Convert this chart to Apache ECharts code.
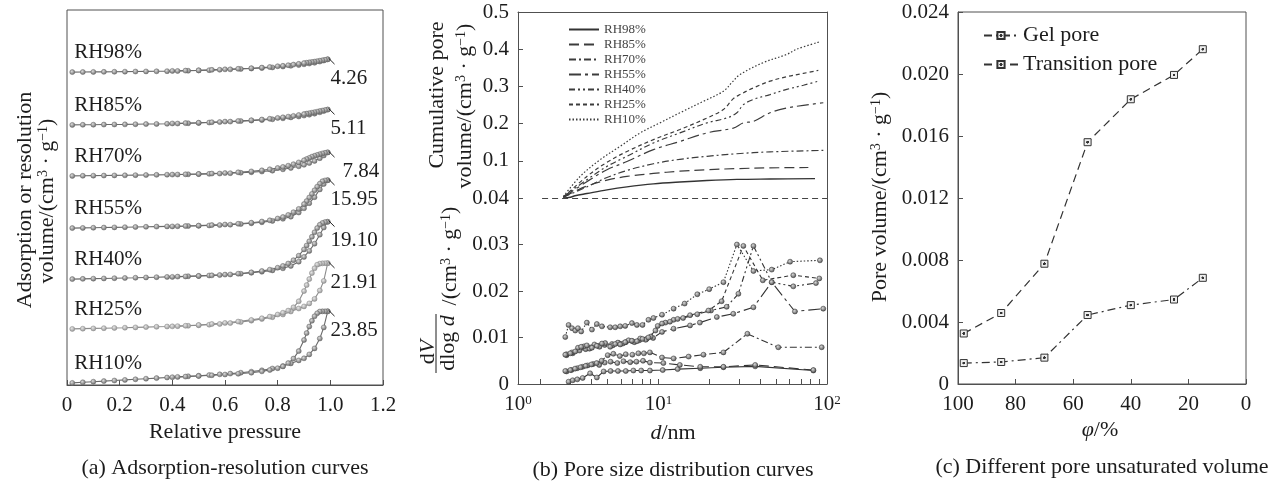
<!DOCTYPE html>
<html><head><meta charset="utf-8">
<script src="https://cdn.jsdelivr.net/npm/echarts@6/dist/echarts.min.js"></script>
<style>html,body{margin:0;padding:0;background:#fff}#c{width:1282px;height:482px}</style>
</head><body><div id="c"></div>
<script>
// ---------------- DATA ----------------
// (a) adsorption / desorption isotherms (relative pressure, volume cm3/g)
const pAds = [0.02,0.06,0.1,0.14,0.18,0.22,0.26,0.3,0.34,0.38,0.42,0.46,0.5,0.54,0.58,0.62,0.66,0.7,0.74,0.78,0.82,0.85,0.88,0.9,0.92,0.94,0.96,0.975,0.99];
const pDes = [0.99,0.98,0.97,0.96,0.95,0.94,0.93,0.92,0.91,0.9,0.88,0.86,0.84,0.82,0.8,0.77,0.74,0.7,0.65,0.6,0.55,0.5,0.45,0.4];
const adsRH98 = [0,0.03,0.06,0.09,0.12,0.15,0.19,0.23,0.27,0.31,0.38,0.46,0.55,0.65,0.78,0.92,1.05,1.2,1.35,1.55,1.85,2.1,2.35,2.6,2.85,3.1,3.5,3.85,4.26];
const desRH98 = [4.26,4.1,3.95,3.8,3.65,3.5,3.38,3.25,3.12,3.0,2.75,2.5,2.3,2.1,1.95,1.7,1.5,1.3,1.1,0.92,0.75,0.6,0.5,0.4];
const adsRH85 = [0,0.04,0.07,0.11,0.14,0.18,0.23,0.28,0.32,0.37,0.46,0.55,0.66,0.78,0.94,1.1,1.26,1.44,1.62,1.86,2.2,2.5,2.8,3.1,3.4,3.75,4.2,4.6,5.11];
const desRH85 = [5.11,4.95,4.78,4.6,4.42,4.25,4.08,3.92,3.76,3.6,3.3,3.0,2.75,2.52,2.33,2.05,1.8,1.56,1.3,1.1,0.9,0.72,0.6,0.48];
const adsRH70 = [0,0.04,0.08,0.12,0.16,0.2,0.25,0.3,0.35,0.4,0.46,0.53,0.6,0.68,0.78,0.9,1.05,1.22,1.45,1.75,2.2,2.65,3.2,3.7,4.3,5.0,5.9,6.8,7.84];
const desRH70 = [7.84,7.7,7.5,7.25,7.0,6.7,6.4,6.0,5.6,5.2,4.5,3.9,3.4,3.0,2.65,2.2,1.85,1.5,1.2,0.95,0.78,0.64,0.53,0.44];
const adsRH55 = [0,0.06,0.12,0.18,0.24,0.3,0.37,0.44,0.5,0.56,0.63,0.7,0.78,0.88,1.0,1.15,1.35,1.6,1.95,2.4,3.1,3.8,5.2,6.6,8.3,10.3,12.9,14.7,15.95];
const desRH55 = [15.95,15.9,15.6,14.8,13.8,12.6,11.4,10.2,9.0,8.0,6.4,5.3,4.4,3.7,3.2,2.6,2.2,1.8,1.45,1.2,1.0,0.82,0.68,0.56];
const adsRH40 = [0,0.08,0.15,0.22,0.3,0.38,0.46,0.55,0.64,0.73,0.83,0.94,1.06,1.2,1.35,1.55,1.8,2.1,2.45,2.9,3.6,4.4,5.8,7.4,9.4,11.8,14.8,17.2,19.1];
const desRH40 = [19.1,19.0,18.7,18.1,17.0,15.6,14.1,12.6,11.2,9.9,7.8,6.3,5.2,4.4,3.8,3.15,2.7,2.25,1.8,1.5,1.25,1.05,0.88,0.74];
const adsRH25 = [0,0.08,0.16,0.24,0.32,0.4,0.5,0.6,0.7,0.8,0.92,1.05,1.2,1.4,1.65,1.95,2.3,2.75,3.3,3.9,4.8,5.8,6.8,7.5,8.5,10.0,12.8,16.0,21.91];
const desRH25 = [21.91,21.9,21.85,21.75,21.4,20.2,18.6,16.6,14.6,12.6,9.2,7.2,6.1,5.4,4.8,4.1,3.55,3.0,2.45,2.0,1.65,1.3,1.05,0.85];
const adsRH10 = [0,0.2,0.4,0.6,0.8,1.0,1.2,1.4,1.6,1.8,2.0,2.2,2.4,2.6,2.85,3.1,3.4,3.75,4.2,4.8,5.6,6.5,7.5,8.2,9.5,11.5,14.8,18.5,23.85];
const desRH10 = [23.85,23.85,23.85,23.8,23.2,22.2,20.7,18.8,16.6,14.3,10.6,8.1,6.6,5.5,4.9,4.3,3.85,3.4,3.05,2.8,2.55,2.3,2.1,1.9];
const rhNames = ['RH98%','RH85%','RH70%','RH55%','RH40%','RH25%','RH10%'];
const peakLabels = ['4.26','5.11','7.84','15.95','19.10','21.91','23.85'];

// (b) top: cumulative pore volume (d nm, cm3/g)
const cumD98 = [2.73,3.0,3.2,3.76,4.95,6.5,9.34,13.4,19.4,29.2,45.9,84.9];
const cumV98 = [0,0.002,0.006,0.012,0.022,0.030,0.038,0.043,0.047,0.050,0.051,0.052];
const cumD85 = [2.73,3.2,3.76,4.95,6.5,9.34,13.4,19.4,29.2,45.9,77.5];
const cumV85 = [0.002,0.018,0.032,0.048,0.058,0.066,0.072,0.076,0.079,0.081,0.082];
const cumD70 = [2.73,3.76,4.95,6.5,9.34,13.4,19.4,29.2,45.9,95.1];
const cumV70 = [0.002,0.030,0.055,0.074,0.092,0.104,0.112,0.119,0.124,0.128];
const cumD55 = [2.73,3.76,4.95,6.5,9.34,13.4,19.4,27.8,31.9,36.6,45.9,57.7,72.4,95.1];
const cumV55 = [0.002,0.044,0.076,0.098,0.130,0.152,0.175,0.188,0.202,0.206,0.229,0.242,0.249,0.256];
const cumD40 = [2.73,3.76,4.95,6.5,9.34,13.4,19.4,25.4,29.2,31.9,36.6,45.9,57.7,72.4,88.8];
const cumV40 = [0.004,0.049,0.085,0.112,0.148,0.175,0.202,0.215,0.229,0.251,0.265,0.278,0.292,0.303,0.314];
const cumD25 = [2.73,3.76,4.95,6.5,9.34,13.4,19.4,24.3,27.8,30.5,36.6,45.9,57.7,72.4,88.8];
const cumV25 = [0.002,0.058,0.096,0.125,0.157,0.184,0.215,0.238,0.267,0.278,0.296,0.314,0.326,0.335,0.343];
const cumD10 = [2.73,3.43,4.51,5.93,7.79,10.2,13.4,18.5,24.3,27.2,30.5,41.9,57.7,66.1,90.8];
const cumV10 = [0.004,0.058,0.103,0.139,0.175,0.202,0.229,0.260,0.287,0.310,0.332,0.364,0.386,0.400,0.420];

// (b) bottom: dV/dlog d
const psdD98 = [2.93,3.1,3.3,3.55,3.93,4.31,4.73,5.2,5.75,6.4,7.1,7.9,8.9,10.6,13.0,17.7,24.3,37.5,83];
const psdV98 = [0.0005,0.0008,0.0010,0.0013,0.0023,0.0014,0.0027,0.0028,0.0028,0.0028,0.0029,0.0029,0.0029,0.0030,0.0032,0.0034,0.0036,0.0038,0.0029];
const psdD85 = [2.85,3.05,3.3,3.55,3.8,4.1,4.45,4.8,5.2,5.7,6.2,6.8,7.4,8.1,8.9,10.7,13.4,17.7,24.3,37.5,83];
const psdV85 = [0.0027,0.0030,0.0034,0.0037,0.0040,0.0043,0.0041,0.0046,0.0048,0.0045,0.0049,0.0047,0.0048,0.0050,0.0046,0.0045,0.0041,0.0037,0.0037,0.0041,0.0030];
const psdD70 = [2.8,3.0,3.2,3.45,3.7,4.0,4.3,4.6,5.0,5.4,5.9,6.4,7.0,7.6,8.2,8.9,10.5,12.3,15.1,18.5,24.3,33.7,51.4,93];
const psdV70 = [0.0028,0.0030,0.0033,0.0036,0.0039,0.0042,0.0045,0.0050,0.0062,0.0065,0.0060,0.0064,0.0063,0.0066,0.0066,0.0068,0.0057,0.0055,0.0059,0.0063,0.0068,0.0108,0.0079,0.0079];
const psdD55 = [2.85,3.1,3.4,3.7,4.0,4.4,4.8,5.3,5.8,6.4,7.0,7.7,8.5,9.3,10.5,12.3,15.4,17.6,22.2,27.8,36.6,47,64.5,95];
const psdV55 = [0.0062,0.0066,0.0072,0.0075,0.0079,0.0082,0.0084,0.0086,0.0088,0.0090,0.0092,0.0094,0.0097,0.0099,0.0112,0.0119,0.0126,0.0132,0.0144,0.0151,0.0165,0.0219,0.0156,0.0162];
const psdD40 = [2.85,3.07,3.33,3.62,3.9,4.17,4.47,4.83,5.35,5.74,6.15,6.65,7.2,7.8,8.4,9.0,9.9,11.0,12.3,14.0,17.0,20.5,25.4,29.8,36.6,47,63.1,86];
const psdV40 = [0.0064,0.0068,0.0078,0.0081,0.0076,0.0085,0.0080,0.0088,0.0083,0.0089,0.0087,0.0094,0.0090,0.0098,0.0095,0.0102,0.0125,0.0132,0.0138,0.0142,0.0150,0.0158,0.0166,0.0194,0.0297,0.0219,0.0210,0.0217];
const psdD25 = [2.80,3.0,3.21,3.48,3.76,4.03,4.31,4.62,5.17,5.54,5.93,6.35,6.96,7.45,8.04,8.72,9.6,10.5,11.7,13.0,15.4,19.8,23.7,31.9,41.6,63.1,90];
const psdV25 = [0.0063,0.0066,0.0070,0.0080,0.0083,0.0078,0.0082,0.0087,0.0080,0.0086,0.0085,0.0090,0.0093,0.0092,0.0097,0.0100,0.0115,0.0130,0.0134,0.0140,0.0148,0.0158,0.0178,0.0297,0.0223,0.0234,0.0227];
const psdD10 = [2.80,2.93,3.07,3.21,3.33,3.48,3.76,4.03,4.31,4.62,5.17,5.54,5.93,6.35,6.96,7.45,8.04,8.72,9.34,10.5,12.3,14.3,17.0,20.0,24.3,29.2,36.6,47.0,60.4,90.8];
const psdV10 = [0.0101,0.0127,0.0120,0.0115,0.0120,0.0113,0.0132,0.0117,0.0129,0.0124,0.0122,0.0122,0.0124,0.0125,0.0131,0.0127,0.0127,0.0138,0.0142,0.0149,0.0162,0.0173,0.0193,0.0204,0.0219,0.0300,0.0243,0.0246,0.0263,0.0266];

// (c) pore volume vs humidity
const phi = [98,85,70,55,40,25,15];
const gelPore = [0.00135,0.00142,0.0017,0.00445,0.00509,0.00545,0.00685];
const transitionPore = [0.00326,0.00458,0.00776,0.0156,0.01837,0.01994,0.0216];

// tick label values
const psdTickLabels = ['10{s|0}','10{s|1}','10{s|2}'];

// ---------------- STYLE / LAYOUT ----------------
const FONT = 'Liberation Serif';
const TXT = '#1c1c1c';
const AX = '#505050';
const zip = (a, b) => a.map((v, i) => [v, b[i]]);
const isoStack = [104.3, 86.7, 69.7, 52.3, 35.3, 18.7, 0.7]; // vertical separation of curves in panel (a)
const isoAdsList = [adsRH98, adsRH85, adsRH70, adsRH55, adsRH40, adsRH25, adsRH10];
const isoDesList = [desRH98, desRH85, desRH70, desRH55, desRH40, desRH25, desRH10];
const cumList = [[cumD98,cumV98],[cumD85,cumV85],[cumD70,cumV70],[cumD55,cumV55],[cumD40,cumV40],[cumD25,cumV25],[cumD10,cumV10]];
const psdList = [[psdD98,psdV98],[psdD85,psdV85],[psdD70,psdV70],[psdD55,psdV55],[psdD40,psdV40],[psdD25,psdV25],[psdD10,psdV10]];
const dashes = ['solid',[10,5],[7,3,2,3],[12,4,3,4],[6,3,2,3,2,3],[4,3],[1.5,2]];

const ball = (light, dark) => ({type:'radial', x:0.4, y:0.38, r:0.7,
  colorStops:[{offset:0,color:light},{offset:1,color:dark}]});
const sq = {type:'radial', x:0.5, y:0.5, r:0.5,
  colorStops:[{offset:0,color:'#333'},{offset:0.3,color:'#333'},{offset:0.38,color:'#eeeeee'},{offset:1,color:'#eeeeee'}]};

const series = [];

// panel (a)
rhNames.forEach((name, i) => {
  const sh = isoStack[i];
  const ads = pAds.map((p, k) => [p, isoAdsList[i][k] + sh]);
  const des = pDes.map((p, k) => [p, isoDesList[i][k] + sh]);
  const last = ads.length - 1;
  const peak = isoAdsList[i][last] + sh;
  const lc = i === 5 ? '#8c8c8c' : '#6a6a6a';
  const mk = i === 5 ? ball('#e6e6e6','#8a8a8a') : ball('#dcdcdc','#5a5a5a');
  ads[0] = {value: ads[0], label:{show:true, formatter:name, position:'top', align:'left', distance:4, offset:[2,-2],
    fontSize:21, fontFamily:FONT, color:TXT}};
  ads[last] = {value: ads[last], label:{show:true, formatter:peakLabels[i], position:'right', distance:4,
    offset:[i === 2 ? 8 : -4, 19], fontSize:21, fontFamily:FONT, color:TXT}};
  const common = {type:'line', xAxisIndex:0, yAxisIndex:0, symbol:'circle', symbolSize:5, z:3,
    lineStyle:{color:lc, width:1.1}, itemStyle:{color:mk, borderColor:lc, borderWidth:0.5}};
  series.push(Object.assign({}, common, {name:name + ' ads', data:ads,
    markLine:{silent:true, symbol:'none', label:{show:false}, lineStyle:{color:'#222', width:1, type:'solid'},
      data:[[{coord:[0.993, peak + 0.4]}, {coord:[1.016, peak - 1.6]}]]}}));
  series.push(Object.assign({}, common, {name:name + ' des', data:des}));
});

// panel (b) top
rhNames.forEach((name, i) => {
  const s = {type:'line', name:name, xAxisIndex:1, yAxisIndex:1, symbol:'none', smooth:0.35,
    data: zip(cumList[i][0], cumList[i][1]),
    itemStyle:{color:'#3c3c3c'},
    lineStyle:{color:i === 0 ? '#333' : '#3c3c3c', width:i === 0 ? 1.4 : 1.2, type:dashes[i]}};
  if (i === 0) {
    s.markLine = {silent:true, symbol:'none', label:{show:false}, lineStyle:{color:'#444', width:1, type:[6,4]},
      data:[[{coord:[2.04, 0]}, {coord:[100, 0]}]]};
  }
  series.push(s);
});
// panel (b) bottom
rhNames.forEach((name, i) => {
  series.push({type:'line', name:name + ' psd', xAxisIndex:2, yAxisIndex:3, symbol:'circle', symbolSize:5,
    data: zip(psdList[i][0], psdList[i][1]),
    lineStyle:{color:'#333', width:1.1, type:dashes[i]},
    itemStyle:{color:ball('#d8d8d8','#444'), borderColor:'#333', borderWidth:0.5}});
});
// panel (c)
series.push({type:'line', name:'Gel pore', xAxisIndex:3, yAxisIndex:5, symbol:'rect', symbolSize:7,
  data: zip(phi, gelPore), lineStyle:{color:'#333', width:1.2, type:[8,4,2,4]},
  itemStyle:{color:sq, borderColor:'#333', borderWidth:1}});
series.push({type:'line', name:'Transition pore', xAxisIndex:3, yAxisIndex:5, symbol:'rect', symbolSize:7,
  data: zip(phi, transitionPore), lineStyle:{color:'#333', width:1.2, type:[8,5]},
  itemStyle:{color:sq, borderColor:'#333', borderWidth:1}});

const lbl = (extra) => Object.assign({fontSize:21, fontFamily:FONT, color:TXT}, extra);
const axLine = {show:true, onZero:false, lineStyle:{color:AX, width:1}};
const tickIn = {show:true, inside:true, length:5, lineStyle:{color:AX}};
const lineOnly = {axisLine:axLine, axisTick:{show:false}, axisLabel:{show:false}, splitLine:{show:false}};

const RICH = {s:{fontSize:14, verticalAlign:'top', fill:TXT, fontFamily:FONT},
              i:{fontStyle:'italic', fontSize:22, fill:TXT, fontFamily:FONT}};
function txt(x, y, text, size, rot) {
  return {type:'text', x:x, y:y, rotation:rot ? Math.PI/2 : 0, z:10,
    style:{text:text, fontFamily:FONT, fontSize:size, fill:TXT, align:'center', verticalAlign:'middle', rich:RICH}};
}

const option = {
  animation:false,
  backgroundColor:'#fff',
  textStyle:{fontFamily:FONT},
  grid:[
    {left:67, top:10, width:316, height:375, show:true, borderColor:AX, borderWidth:1, outerBoundsMode:'none'},
    {left:518, top:12, width:309, height:186, outerBoundsMode:'none'},
    {left:518, top:198, width:309, height:186, outerBoundsMode:'none'},
    {left:958, top:12, width:288, height:372, show:true, borderColor:AX, borderWidth:1, outerBoundsMode:'none'}
  ],
  xAxis:[
    {type:'value', gridIndex:0, min:0, max:1.2, interval:0.2, axisLine:axLine, axisTick:tickIn, splitLine:{show:false},
      axisLabel:lbl({margin:10, formatter:v => v === 0 ? '0' : v.toFixed(1)})},
    Object.assign({type:'log', gridIndex:1, position:'top', min:1.468, max:100}, lineOnly),
    {type:'log', gridIndex:2, min:1.468, max:100, axisLine:axLine, splitLine:{show:false},
      axisTick:Object.assign({customValues:[2,3,4,5,6,7,8,9,10,20,30,40,50,60,70,80,90]}, tickIn),
      axisLabel:lbl({margin:10, customValues:[1.4681,10,100],
        formatter:v => psdTickLabels[Math.round(Math.log10(v))],
        rich:{s:{fontSize:13, verticalAlign:'top', fontFamily:FONT, color:TXT}}})},
    {type:'value', gridIndex:3, min:0, max:100, interval:20, inverse:true, axisLine:axLine, axisTick:tickIn,
      splitLine:{show:false}, axisLabel:lbl({margin:10})}
  ],
  yAxis:[
    {type:'value', gridIndex:0, min:0, max:125, axisLine:{show:false}, axisTick:{show:false}, axisLabel:{show:false}, splitLine:{show:false}},
    {type:'value', gridIndex:1, min:0, max:0.5, interval:0.1, axisLine:axLine, axisTick:tickIn, splitLine:{show:false},
      axisLabel:lbl({margin:9, formatter:v => v === 0 ? '' : v.toFixed(1)})},
    Object.assign({type:'value', gridIndex:1, position:'right', min:0, max:1}, lineOnly),
    {type:'value', gridIndex:2, min:0, max:0.04, interval:0.01, axisLine:axLine, axisTick:tickIn, splitLine:{show:false},
      axisLabel:lbl({margin:9, formatter:v => v === 0 ? '0' : v.toFixed(2)})},
    Object.assign({type:'value', gridIndex:2, position:'right', min:0, max:1}, lineOnly),
    {type:'value', gridIndex:3, min:0, max:0.024, interval:0.004, axisLine:axLine, axisTick:tickIn, splitLine:{show:false},
      axisLabel:lbl({margin:9, formatter:v => v === 0 ? '0' : v.toFixed(3)})}
  ],
  legend:[
    {data:rhNames, orient:'vertical', left:563, top:17, itemWidth:30, itemHeight:10, itemGap:0, selectedMode:false,
      itemStyle:{opacity:0},
      textStyle:{fontSize:13, lineHeight:15, color:'#444', fontFamily:FONT}},
    {data:['Gel pore','Transition pore'], orient:'vertical', left:978, top:16, itemWidth:34, itemHeight:9, itemGap:0, selectedMode:false,
      textStyle:{fontSize:22, lineHeight:29, color:TXT, fontFamily:FONT}}
  ],
  graphic:[
    txt(25, 200, 'Adsorption or resolution', 22, true),
    txt(47, 201, 'volume/(cm{s|3} · g{s|−1})', 22, true),
    txt(225, 432, 'Relative pressure', 22),
    txt(225, 468, '(a) Adsorption-resolution curves', 22),
    txt(437, 95, 'Cumulative pore', 22, true),
    txt(465, 106, 'volume/(cm{s|3} · g{s|−1})', 22, true),
    txt(428, 352, 'd{i|V}', 22, true),
    {type:'line', z:10, shape:{x1:436, y1:314, x2:436, y2:373}, style:{stroke:TXT, lineWidth:1}},
    txt(448, 343, 'dlog {i|d}', 22, true),
    txt(450, 256, '/(cm{s|3} · g{s|−1})', 22, true),
    txt(673, 433, '{i|d}/nm', 22),
    txt(673, 470, '(b) Pore size distribution curves', 22),
    txt(880, 197, 'Pore volume/(cm{s|3} · g{s|−1})', 22, true),
    txt(1100, 430, '{i|φ}/%', 22),
    txt(1102, 467, '(c) Different pore unsaturated volume', 22)
  ],
  series:series
};
const chart = echarts.init(document.getElementById('c'), null, {renderer:'canvas'});
chart.setOption(option);
</script></body></html>
